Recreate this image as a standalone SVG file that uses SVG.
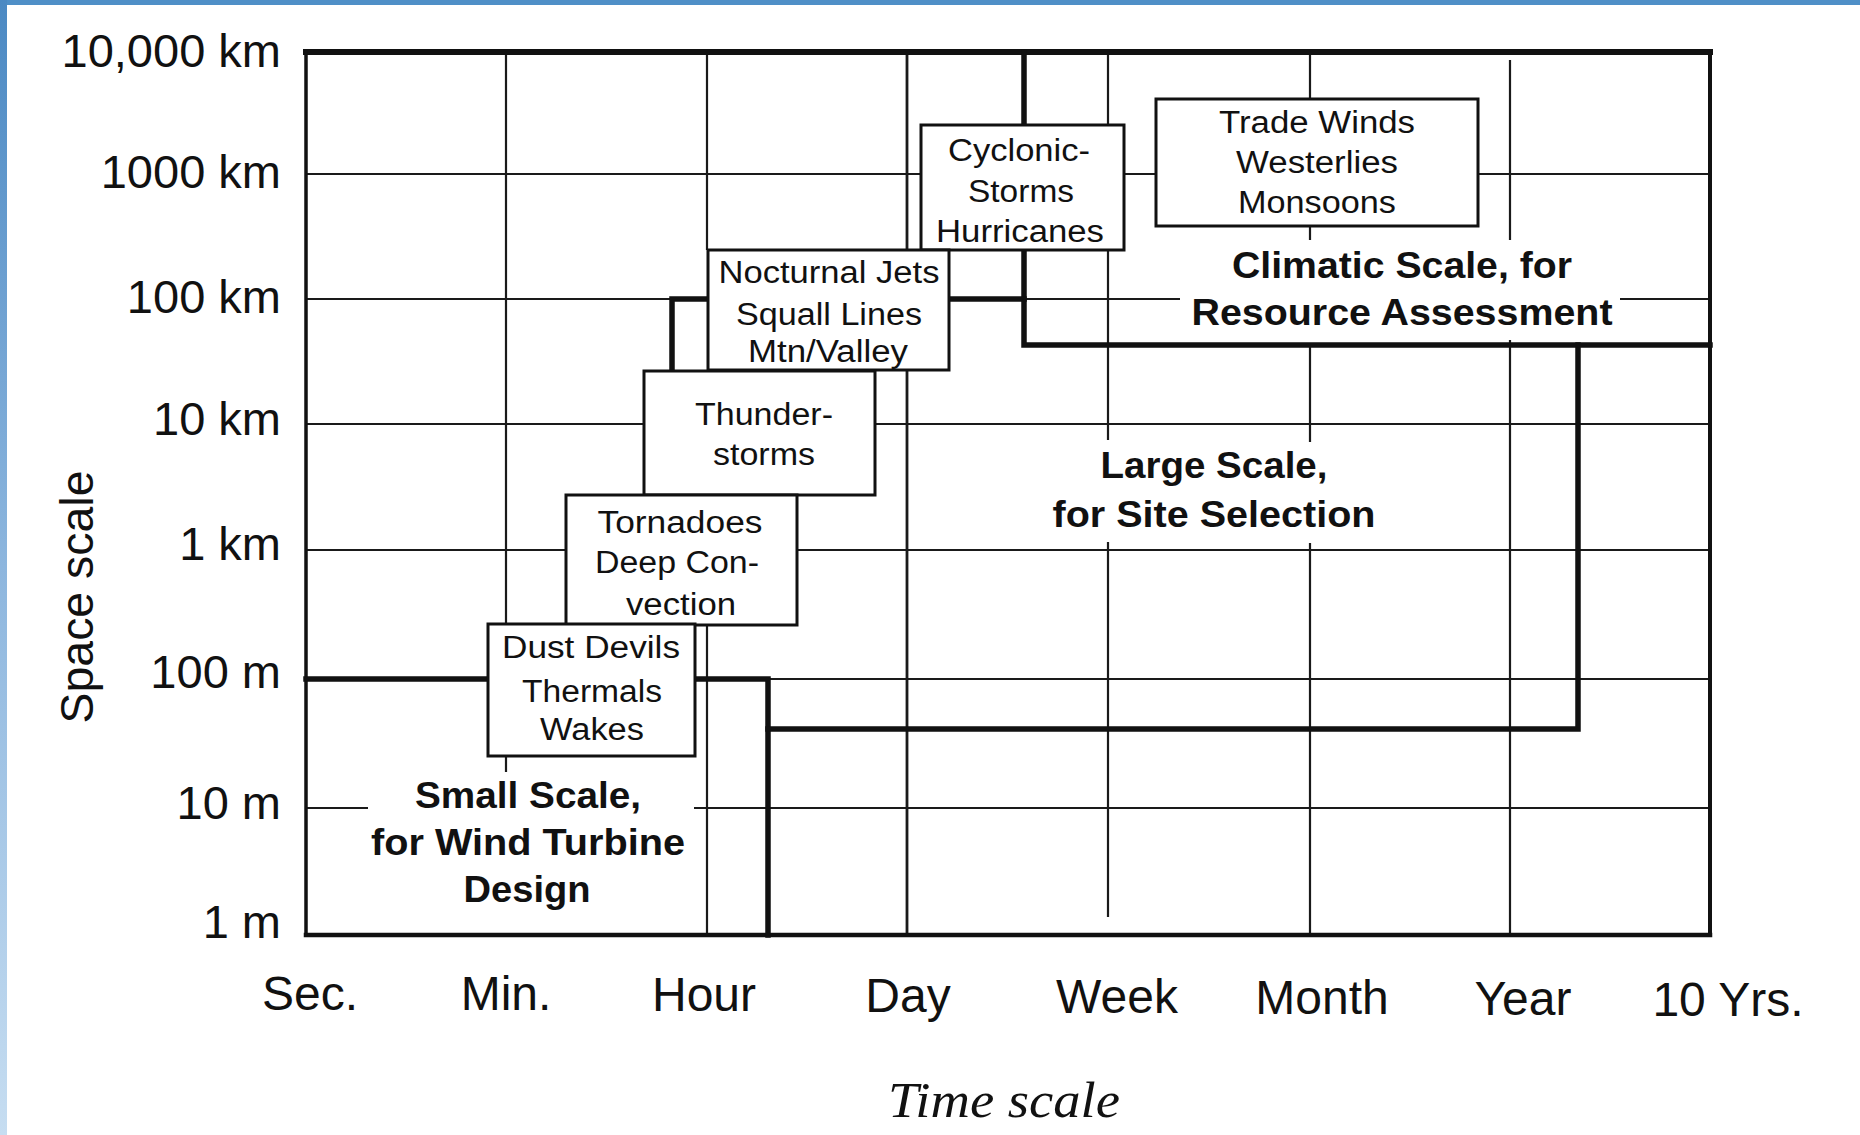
<svg xmlns="http://www.w3.org/2000/svg" width="1860" height="1135" viewBox="0 0 1860 1135">
<defs>
<linearGradient id="sideGrad" x1="0" y1="0" x2="0" y2="1">
<stop offset="0" stop-color="#4b89c3"/>
<stop offset="0.5" stop-color="#8db6de"/>
<stop offset="1" stop-color="#c6ddf1"/>
</linearGradient>
<style>
.grid{fill:none;stroke:#1a1a1a;stroke-width:2.2}
.frame{fill:none;stroke:#111;stroke-linecap:square}
.thick{fill:none;stroke:#111;stroke-width:5.5;stroke-linecap:square;stroke-linejoin:miter}
.box{fill:#fff;stroke:#111;stroke-width:3}
.ax{font-family:"Liberation Sans",Arial,sans-serif;font-size:47px;fill:#111}
.bx{font-family:"Liberation Sans",Arial,sans-serif;font-size:31px;fill:#111;text-anchor:middle}
.rg{font-family:"Liberation Sans",Arial,sans-serif;font-size:37px;font-weight:bold;fill:#111;text-anchor:middle}
</style>
</defs>
<rect x="0" y="0" width="1860" height="1135" fill="#fff"/>
<rect x="0" y="0" width="1860" height="5" fill="#4f8fc7"/>
<rect x="0" y="0" width="7" height="1135" fill="url(#sideGrad)"/>

<g id="grid">
<path class="grid" d="M306,174H921M1124,174H1156M1478,174H1710"/>
<path class="grid" d="M306,299H672M1024,299H1180M1620,299H1710"/>
<path class="grid" d="M306,424H644M875,424H1710"/>
<path class="grid" d="M306,550H566M797,550H1710"/>
<path class="grid" d="M768,679H1710"/>
<path class="grid" d="M306,808H368M694,808H1710"/>
<path class="grid" d="M506,52V624M506,756V772"/>
<path class="grid" d="M707,52V250M707,625V935"/>
<path class="grid" d="M907,52V250M907,370V935" style="stroke-width:2.8"/>
<path class="grid" d="M1108,52V125M1108,250V440M1108,542V917"/>
<path class="grid" d="M1310,52V99M1310,226V240M1310,345V442M1310,543V935"/>
<path class="grid" d="M1510,60V240M1510,340V935"/>
</g>

<g id="frame">
<path class="frame" d="M306,52H1710" style="stroke-width:6"/>
<path class="frame" d="M306,935H1710" style="stroke-width:4.5"/>
<path class="frame" d="M306,52V935" style="stroke-width:3.5"/>
<path class="frame" d="M1710,52V935" style="stroke-width:4"/>
</g>

<g id="connectors">
<path class="thick" d="M306,679H488M695,679H768V935"/>
<path class="thick" d="M768,729H1578V345"/>
<path class="thick" d="M1024,52V125M1024,250V345H1710"/>
<path class="thick" d="M949,299H1024"/>
<path class="thick" d="M672,371V299H708"/>
</g>

<g id="node-trade-winds">
<rect class="box" x="1156" y="99" width="322" height="127"/>
<text class="bx" x="1317" y="133" textLength="196" lengthAdjust="spacingAndGlyphs">Trade Winds</text>
<text class="bx" x="1317" y="173" textLength="162" lengthAdjust="spacingAndGlyphs">Westerlies</text>
<text class="bx" x="1317" y="213" textLength="158" lengthAdjust="spacingAndGlyphs">Monsoons</text>
</g>

<g id="node-cyclonic">
<rect class="box" x="921" y="125" width="203" height="125"/>
<text class="bx" x="1019" y="161" textLength="142" lengthAdjust="spacingAndGlyphs">Cyclonic-</text>
<text class="bx" x="1021" y="202" textLength="106" lengthAdjust="spacingAndGlyphs">Storms</text>
<text class="bx" x="1020" y="242" textLength="168" lengthAdjust="spacingAndGlyphs">Hurricanes</text>
</g>

<g id="node-nocturnal">
<rect class="box" x="708" y="250" width="241" height="120"/>
<text class="bx" x="829" y="283" textLength="221" lengthAdjust="spacingAndGlyphs">Nocturnal Jets</text>
<text class="bx" x="829" y="325" textLength="186" lengthAdjust="spacingAndGlyphs">Squall Lines</text>
<text class="bx" x="828" y="362" textLength="160" lengthAdjust="spacingAndGlyphs">Mtn/Valley</text>
</g>

<g id="node-thunderstorms">
<rect class="box" x="644" y="371" width="231" height="124"/>
<text class="bx" x="764" y="425" textLength="138" lengthAdjust="spacingAndGlyphs">Thunder-</text>
<text class="bx" x="764" y="465" textLength="102" lengthAdjust="spacingAndGlyphs">storms</text>
</g>

<g id="node-tornadoes">
<rect class="box" x="566" y="495" width="231" height="130"/>
<text class="bx" x="680" y="533" textLength="165" lengthAdjust="spacingAndGlyphs">Tornadoes</text>
<text class="bx" x="677" y="573" textLength="164" lengthAdjust="spacingAndGlyphs">Deep Con-</text>
<text class="bx" x="681" y="615" textLength="110" lengthAdjust="spacingAndGlyphs">vection</text>
</g>

<g id="node-dust-devils">
<rect class="box" x="488" y="624" width="207" height="132"/>
<text class="bx" x="591" y="658" textLength="178" lengthAdjust="spacingAndGlyphs">Dust Devils</text>
<text class="bx" x="592" y="702" textLength="140" lengthAdjust="spacingAndGlyphs">Thermals</text>
<text class="bx" x="592" y="740" textLength="104" lengthAdjust="spacingAndGlyphs">Wakes</text>
</g>

<g id="node-climatic">
<text class="rg" x="1402" y="278" textLength="340" lengthAdjust="spacingAndGlyphs">Climatic Scale, for</text>
<text class="rg" x="1402" y="325" textLength="421" lengthAdjust="spacingAndGlyphs">Resource Assessment</text>
</g>

<g id="node-large">
<text class="rg" x="1214" y="478" textLength="227" lengthAdjust="spacingAndGlyphs">Large Scale,</text>
<text class="rg" x="1214" y="527" textLength="323" lengthAdjust="spacingAndGlyphs">for Site Selection</text>
</g>

<g id="node-small">
<text class="rg" x="528" y="808" textLength="226" lengthAdjust="spacingAndGlyphs">Small Scale,</text>
<text class="rg" x="528" y="855" textLength="314" lengthAdjust="spacingAndGlyphs">for Wind Turbine</text>
<text class="rg" x="527" y="902" textLength="127" lengthAdjust="spacingAndGlyphs">Design</text>
</g>

<g id="y-axis" text-anchor="end">
<text class="ax" x="281" y="67">10,000 km</text>
<text class="ax" x="281" y="188">1000 km</text>
<text class="ax" x="281" y="313">100 km</text>
<text class="ax" x="281" y="435">10 km</text>
<text class="ax" x="281" y="560">1 km</text>
<text class="ax" x="281" y="688">100 m</text>
<text class="ax" x="281" y="819">10 m</text>
<text class="ax" x="281" y="938">1 m</text>
<text class="ax" transform="translate(93,597) rotate(-90)" x="0" y="0" text-anchor="middle" textLength="253" lengthAdjust="spacingAndGlyphs">Space scale</text>
</g>

<g id="x-axis" text-anchor="middle">
<text class="ax" x="310" y="1010" style="font-size:48px">Sec.</text>
<text class="ax" x="506" y="1010" style="font-size:48px">Min.</text>
<text class="ax" x="704" y="1011" style="font-size:48px">Hour</text>
<text class="ax" x="908" y="1012" style="font-size:48px">Day</text>
<text class="ax" x="1117" y="1013" style="font-size:48px">Week</text>
<text class="ax" x="1322" y="1014" style="font-size:48px">Month</text>
<text class="ax" x="1523" y="1015" style="font-size:48px">Year</text>
<text class="ax" x="1728" y="1016" style="font-size:48px">10 Yrs.</text>
<text x="1004" y="1117" font-family="'Liberation Serif','Times New Roman',serif" font-style="italic" font-size="50" fill="#111" textLength="232" lengthAdjust="spacingAndGlyphs">Time scale</text>
</g>
</svg>
